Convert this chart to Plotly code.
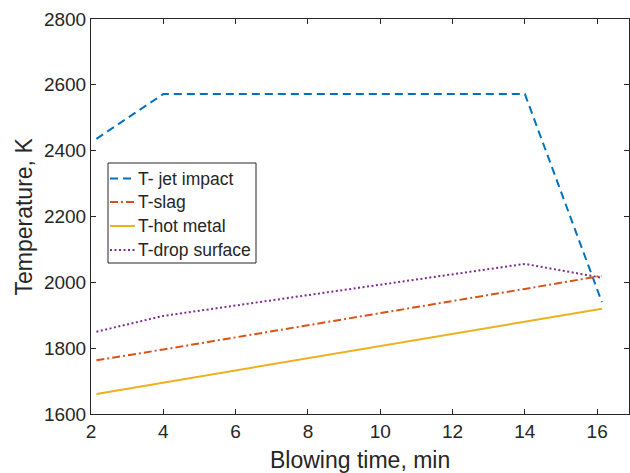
import plotly.graph_objects as go

# Blowing time (min) at the profile break points
time_min = [2.15, 4, 14, 16.13]

# Temperatures (K)
t_jet_impact = [2436, 2572, 2572, 1940]
t_slag = [1763, 1796, 1980, 2020]
t_hot_metal = [1661, 1695, 1881, 1920]
t_drop_surface = [1850, 1898, 2056, 2014]

series_names = ["T- jet impact", "T-slag", "T-hot metal", "T-drop surface"]
x_ticks = [2, 4, 6, 8, 10, 12, 14, 16]
y_ticks = [1600, 1800, 2000, 2200, 2400, 2600, 2800]

FONT = "Liberation Sans, Arial, Helvetica, sans-serif"
TXT = "#262626"

styles = [
    dict(color="#0072BD", dash="8px,5px"),
    dict(color="#D95319", dash="8px,3px,2px,3px"),
    dict(color="#EDB120", dash="solid"),
    dict(color="#7E2F8E", dash="2px,2.5px"),
]

# Plot-area geometry in pixels (used to place the boxed legend in paper units)
W, H = 630, 473
ML, MR, MT, MB = 91, 1, 19, 59
PW, PH = W - ML - MR, H - MT - MB


def px_x(px):
    return (px - ML) / PW


def px_y(py):
    return (H - MB - py) / PH


fig = go.Figure()
for name, ys, st in zip(series_names, [t_jet_impact, t_slag, t_hot_metal, t_drop_surface], styles):
    fig.add_trace(go.Scatter(
        x=time_min, y=ys, mode="lines", name=name, showlegend=False,
        line=dict(color=st["color"], dash=st["dash"], width=2),
    ))

# Boxed legend: frame, line samples and labels
shapes = [dict(type="rect", xref="paper", yref="paper", layer="above",
               x0=px_x(108), x1=px_x(256), y0=px_y(163), y1=px_y(263),
               fillcolor="white", line=dict(color=TXT, width=1))]
annotations = []
row_y = [178.5, 202, 226, 250]
for name, st, ry in zip(series_names, styles, row_y):
    shapes.append(dict(type="line", xref="paper", yref="paper", layer="above",
                       x0=px_x(110), x1=px_x(135), y0=px_y(ry), y1=px_y(ry),
                       line=dict(color=st["color"], dash=st["dash"], width=2)))
    annotations.append(dict(text=name, xref="paper", yref="paper",
                            x=px_x(136), y=px_y(ry), xanchor="left", yanchor="middle",
                            showarrow=False,
                            font=dict(family=FONT, size=17.5, color=TXT)))

annotations += [
    dict(text="Blowing time, min", xref="paper", yref="paper",
         x=0.5, y=px_y(460), xanchor="center", yanchor="middle",
         showarrow=False, font=dict(family=FONT, size=23, color=TXT)),
    dict(text="Temperature, K", xref="paper", yref="paper",
         x=px_x(23), y=0.5, xanchor="center", yanchor="middle",
         textangle=-90, showarrow=False,
         font=dict(family=FONT, size=23, color=TXT)),
]

axis_common = dict(
    showline=True, linecolor=TXT, linewidth=1, mirror="ticks",
    ticks="inside", ticklen=5, tickwidth=1, tickcolor=TXT,
    showgrid=False, zeroline=False,
    tickfont=dict(family=FONT, size=19, color=TXT),
)

fig.update_layout(
    width=W, height=H,
    margin=dict(l=ML, r=MR, t=MT, b=MB),
    paper_bgcolor="white", plot_bgcolor="white",
    font=dict(family=FONT, color=TXT),
    showlegend=False,
    xaxis=dict(range=[2, 16.88], tickvals=x_ticks, **axis_common),
    yaxis=dict(range=[1600, 2800], tickvals=y_ticks, **axis_common),
    shapes=shapes,
    annotations=annotations,
)

fig.write_html("out.html")
